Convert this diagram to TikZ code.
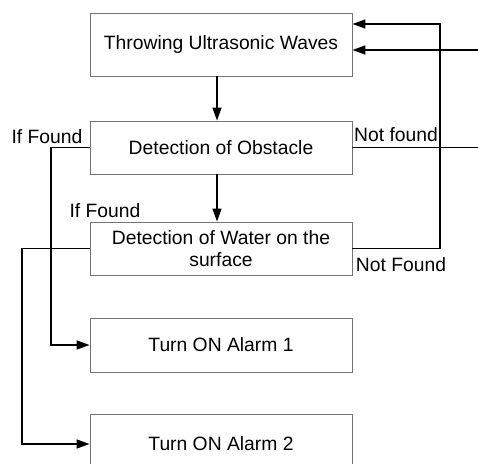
\documentclass[tikz,border=0pt]{standalone}
\usepackage{fontspec}
\setmainfont{Liberation Sans}
\usetikzlibrary{arrows.meta}
\begin{document}
\begin{tikzpicture}[x=1pt,y=-1pt,
 box/.style={draw=black!55, line width=0.9pt, minimum width=262pt, inner sep=0pt, align=center, font=\fontsize{19.3}{22}\selectfont},
 conn/.style={line width=1.6pt, -{Triangle[length=13pt,width=9pt]}},
 wire/.style={line width=1.6pt},
 lbl/.style={font=\fontsize{19.3}{22}\selectfont, inner sep=0pt}]
\useasboundingbox (0,0) rectangle (478,463);
\clip (0,0) rectangle (478,463);
\node[box, minimum height=63pt] (b1) at (221,44.5) {Throwing Ultrasonic Waves};
\node[box, minimum height=53pt] (b2) at (221,147.5) {Detection of Obstacle};
\node[box, minimum height=53pt] (b3) at (221,248.5) {Detection of Water on the\\surface};
\node[box, minimum height=54pt] (b4) at (221,345) {Turn ON Alarm 1};
\node[box, minimum height=60pt] (b5) at (221,444) {Turn ON Alarm 2};
\node[lbl] (l1) at (47,137) {If Found};
\node[lbl] (l2) at (396,135) {Not found};
\node[lbl] (l3) at (105,211) {If Found};
\node[lbl] (l4) at (401,265) {Not Found};
\coordinate (e1) at (481,147.5);
\coordinate (e2) at (481,50);
\draw[conn] ([xshift=-4pt]b1.south) -- ([xshift=-4pt]b2.north);
\draw[conn] ([xshift=-4pt]b2.south) -- ([xshift=-4pt]b3.north);
\draw[wire] (b2.east) -- (e1);
\draw[conn] (e2) -- ([yshift=-5.5pt]b1.east);
\draw[conn] (b3.east) -- (440,248.5) |- ([yshift=20.5pt]b1.east);
\draw[conn] (b2.west) -- (51,147.5) |- (b4.west);
\draw[conn] (b3.west) -- (22,248.5) |- (b5.west);
\end{tikzpicture}
\end{document}
